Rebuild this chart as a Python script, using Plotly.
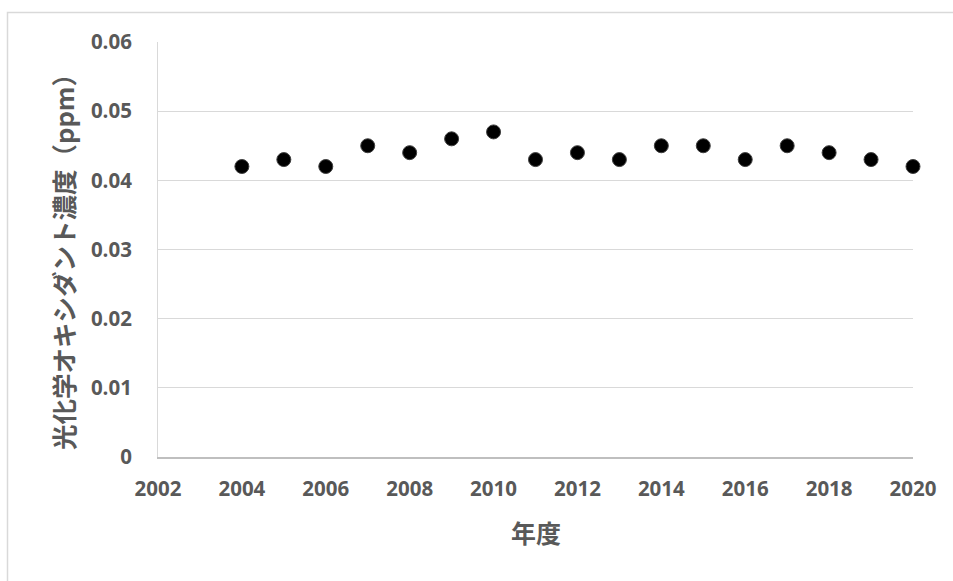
import plotly.graph_objects as go

# Annual mean photochemical oxidant concentration by fiscal year
years = [2004, 2005, 2006, 2007, 2008, 2009, 2010, 2011, 2012,
         2013, 2014, 2015, 2016, 2017, 2018, 2019, 2020]
ox_ppm = [0.042, 0.043, 0.042, 0.045, 0.044, 0.046, 0.047, 0.043, 0.044,
          0.043, 0.045, 0.045, 0.043, 0.045, 0.044, 0.043, 0.042]

x_ticks = [2002, 2004, 2006, 2008, 2010, 2012, 2014, 2016, 2018, 2020]
y_ticks = [0, 0.01, 0.02, 0.03, 0.04, 0.05, 0.06]
y_ticktext = ["0", "0.01", "0.02", "0.03", "0.04", "0.05", "0.06"]

x_title = "年度"
y_title = "光化学オキシダント濃度（ppm）"

W, H = 953, 581
L, R, T, B = 158, 40, 42, 124
PW, PH = W - L - R, H - T - B


def px(xpix):
    return (xpix - L) / PW


def py(ypix):
    return 1 - (ypix - T) / PH


label_color = "#595959"
tick_font = dict(family="Open Sans", size=20.5, color=label_color, weight="bold")

fig = go.Figure(
    go.Scatter(
        x=years,
        y=ox_ppm,
        mode="markers",
        marker=dict(size=14, color="#000000", line=dict(color="#3f3f3f", width=1)),
        showlegend=False,
        cliponaxis=False,
    )
)

fig.update_layout(
    width=W,
    height=H,
    margin=dict(l=L, r=R, t=T, b=B),
    paper_bgcolor="white",
    plot_bgcolor="white",
    xaxis=dict(
        range=[2002, 2020],
        tickvals=x_ticks,
        ticktext=[str(v) for v in x_ticks],
        tickfont=tick_font,
        showgrid=False,
        zeroline=False,
        showline=True,
        linecolor="#bfbfbf",
        linewidth=1.5,
        ticks="",
        ticklabelstandoff=13,
    ),
    yaxis=dict(
        range=[0, 0.06],
        tickvals=y_ticks,
        ticktext=y_ticktext,
        tickfont=tick_font,
        showgrid=True,
        gridcolor="#d9d9d9",
        gridwidth=1,
        zeroline=False,
        showline=True,
        linecolor="#d9d9d9",
        linewidth=1,
        ticks="",
        ticklabelstandoff=21,
    ),
    annotations=[
        dict(
            text=y_title,
            xref="paper", yref="paper",
            x=px(62), y=py(256),
            xanchor="center", yanchor="middle",
            textangle=-90,
            showarrow=False,
            font=dict(family="Noto Sans CJK JP", size=25.5, color=label_color, weight="bold"),
        ),
        dict(
            text=x_title,
            xref="paper", yref="paper",
            x=px(536), y=py(532),
            xanchor="center", yanchor="middle",
            showarrow=False,
            font=dict(family="Noto Sans CJK JP", size=25, color=label_color, weight="bold"),
        ),
    ],
    shapes=[
        dict(
            type="rect",
            xref="paper", yref="paper",
            x0=px(7.5), x1=px(W + 10),
            y0=py(H + 10), y1=py(12.5),
            line=dict(color="#d9d9d9", width=1.5),
            fillcolor="rgba(0,0,0,0)",
            layer="below",
        )
    ],
)

fig.write_html("out.html")
